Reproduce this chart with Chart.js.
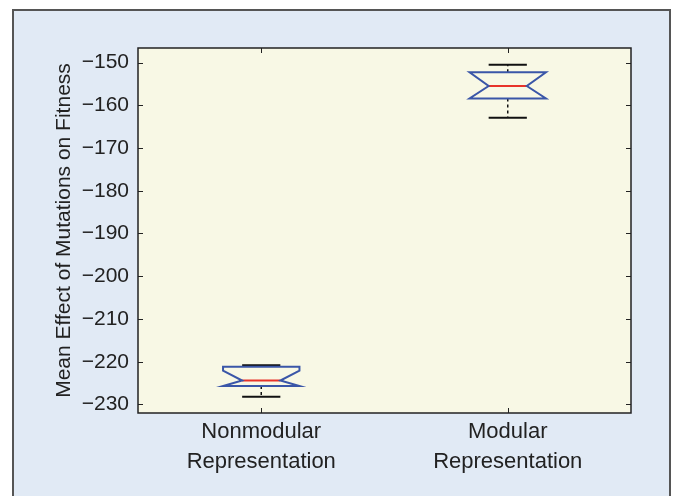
<!DOCTYPE html>
<html>
<head>
<meta charset="utf-8">
<script src="https://cdn.jsdelivr.net/npm/chart.js@4"></script>
<style>
  body { margin: 0; background: #fff; }
  canvas { display: block; }
</style>
</head>
<body>
<canvas id="chart" width="676" height="496"></canvas>
<script>
'use strict';

// data
var categories   = [['Nonmodular', 'Representation'], ['Modular', 'Representation']];
var upperWhisker = [-220.8, -150.5];
var q3           = [-221.2, -152.3];
var notchHigh    = [-222.1, -152.3];
var median       = [-224.4, -155.5];
var notchLow     = [-225.7, -158.4];
var q1           = [-225.7, -158.4];
var lowerWhisker = [-228.2, -162.9];
var yTicks       = [-230, -220, -210, -200, -190, -180, -170, -160, -150];

var fontFamily = '"Liberation Sans", Arial, Helvetica, sans-serif';

function minusLabel(v) {
  return v < 0 ? '\u2212' + Math.abs(v) : String(v);
}

var frame = {
  id: 'frame',
  beforeDraw: function (chart) {
    var ctx = chart.ctx, a = chart.chartArea;
    ctx.save();
    ctx.fillStyle = '#ffffff';
    ctx.fillRect(0, 0, chart.width, chart.height);
    ctx.fillStyle = '#e1eaf5';
    ctx.fillRect(13, 10, 657, chart.height);
    ctx.strokeStyle = '#555555';
    ctx.lineWidth = 2;
    ctx.strokeRect(13, 10, 657, chart.height + 10);
    ctx.fillStyle = '#f8f8e5';
    ctx.fillRect(a.left, a.top, a.right - a.left, a.bottom - a.top);
    ctx.restore();
  },
  afterDraw: function (chart) {
    var ctx = chart.ctx, a = chart.chartArea;
    var x = chart.scales.x, y = chart.scales.y;
    ctx.save();
    ctx.strokeStyle = '#222222';
    ctx.lineWidth = 1;
    // inward ticks on all four sides
    y.ticks.forEach(function (t) {
      var py = Math.round(y.getPixelForValue(t.value)) + 0.5;
      ctx.beginPath();
      ctx.moveTo(a.left, py); ctx.lineTo(a.left + 5, py);
      ctx.moveTo(a.right, py); ctx.lineTo(a.right - 5, py);
      ctx.stroke();
    });
    categories.forEach(function (c, i) {
      var px = Math.round(x.getPixelForValue(i)) + 0.5;
      ctx.beginPath();
      ctx.moveTo(px, a.bottom); ctx.lineTo(px, a.bottom - 5);
      ctx.moveTo(px, a.top); ctx.lineTo(px, a.top + 5);
      ctx.stroke();
    });
    ctx.lineWidth = 1.5;
    ctx.strokeRect(a.left, a.top, a.right - a.left, a.bottom - a.top);
    ctx.restore();
  }
};

var boxes = {
  id: 'boxes',
  afterDatasetsDraw: function (chart) {
    var ctx = chart.ctx;
    var x = chart.scales.x, y = chart.scales.y;
    var step = x.getPixelForValue(1) - x.getPixelForValue(0);
    var half = step * 0.155;
    ctx.save();
    categories.forEach(function (c, i) {
      var cx = x.getPixelForValue(i);
      var L = cx - half, R = cx + half;
      var yq3 = y.getPixelForValue(q3[i]), yq1 = y.getPixelForValue(q1[i]);
      var ynh = y.getPixelForValue(notchHigh[i]), ynl = y.getPixelForValue(notchLow[i]);
      var ym = y.getPixelForValue(median[i]);
      var yuw = y.getPixelForValue(upperWhisker[i]), ylw = y.getPixelForValue(lowerWhisker[i]);

      // dashed whiskers
      ctx.strokeStyle = '#111111';
      ctx.lineWidth = 1.5;
      ctx.setLineDash([3, 3]);
      ctx.beginPath();
      ctx.moveTo(cx, yq3); ctx.lineTo(cx, yuw);
      ctx.moveTo(cx, yq1); ctx.lineTo(cx, ylw);
      ctx.stroke();
      ctx.setLineDash([]);

      // caps
      ctx.lineWidth = 2;
      ctx.beginPath();
      ctx.moveTo(cx - half / 2, yuw); ctx.lineTo(cx + half / 2, yuw);
      ctx.moveTo(cx - half / 2, ylw); ctx.lineTo(cx + half / 2, ylw);
      ctx.stroke();

      // median
      ctx.strokeStyle = '#e8332a';
      ctx.beginPath();
      ctx.moveTo(cx - half / 2, ym); ctx.lineTo(cx + half / 2, ym);
      ctx.stroke();

      // notched box
      ctx.strokeStyle = '#3a56a8';
      ctx.lineWidth = 2;
      ctx.beginPath();
      ctx.moveTo(L, yq3);
      ctx.lineTo(R, yq3);
      ctx.lineTo(R, ynh);
      ctx.lineTo(cx + half / 2, ym);
      ctx.lineTo(R, ynl);
      ctx.lineTo(R, yq1);
      ctx.lineTo(L, yq1);
      ctx.lineTo(L, ynl);
      ctx.lineTo(cx - half / 2, ym);
      ctx.lineTo(L, ynh);
      ctx.closePath();
      ctx.stroke();
    });
    ctx.restore();
  }
};

new Chart(document.getElementById('chart'), {
  type: 'line',
  data: {
    labels: categories,
    datasets: [{
      data: median,
      showLine: false,
      pointRadius: 0,
      pointHoverRadius: 0
    }]
  },
  options: {
    responsive: false,
    animation: false,
    events: [],
    layout: { padding: { top: 48, right: 45, left: 0, bottom: 0 } },
    plugins: {
      legend: { display: false },
      tooltip: { enabled: false }
    },
    scales: {
      x: {
        offset: true,
        grid: { display: false, drawTicks: false },
        border: { display: false },
        ticks: {
          padding: 4,
          color: '#222222',
          font: { family: fontFamily, size: 22, lineHeight: 1.35 }
        },
        afterFit: function (scale) { scale.height = 83; }
      },
      y: {
        min: -232,
        max: -146.6,
        grid: { display: false, drawTicks: false },
        border: { display: false },
        afterBuildTicks: function (scale) {
          scale.ticks = yTicks.map(function (v) { return { value: v }; });
        },
        ticks: {
          padding: 9,
          color: '#222222',
          font: { family: fontFamily, size: 21 },
          callback: function (v) { return minusLabel(v); }
        },
        title: {
          display: true,
          text: 'Mean Effect of Mutations on Fitness',
          color: '#222222',
          padding: { top: 52, bottom: 0 },
          font: { family: fontFamily, size: 21 }
        },
        afterFit: function (scale) { scale.width = 138; }
      }
    }
  },
  plugins: [frame, boxes]
});
</script>
</body>
</html>
